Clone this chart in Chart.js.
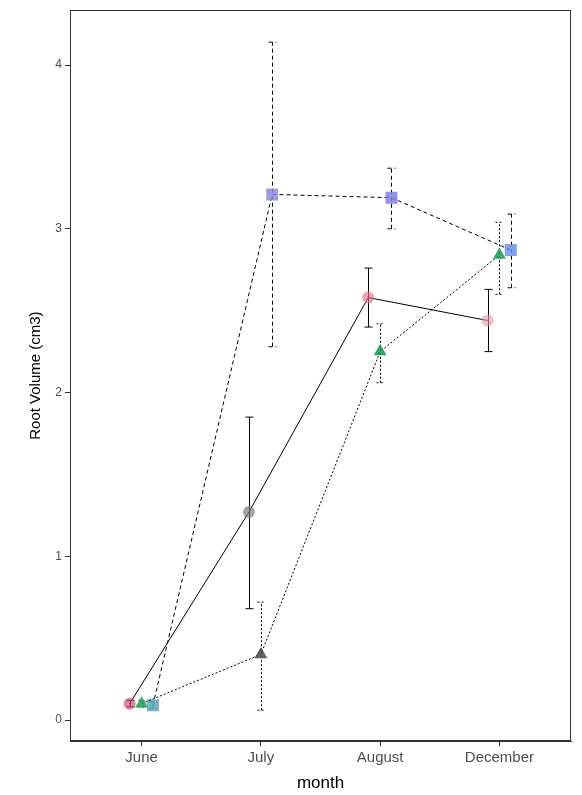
<!DOCTYPE html>
<html>
<head>
<meta charset="utf-8">
<script src="https://cdn.jsdelivr.net/npm/chart.js@4"></script>
<style>
  html, body { margin: 0; padding: 0; background: #ffffff; }
  #wrap { width: 582px; height: 795px; }
</style>
</head>
<body>
<div id="wrap"><canvas id="chart" width="582" height="795"></canvas></div>
<script>
// Dati
const months = ['June', 'July', 'August', 'December'];
const yTicks = [0, 1, 2, 3, 4];

// serie 1: cerchi, linea continua
const circleMean = [0.10, 1.27, 2.58, 2.44];
const circleLow  = [0.08, 0.68, 2.40, 2.25];
const circleHigh = [0.12, 1.85, 2.76, 2.63];

// serie 2: triangoli, linea a puntini
const triMean = [0.10, 0.40, 2.25, 2.84];
const triLow  = [0.08, 0.06, 2.06, 2.60];
const triHigh = [0.12, 0.72, 2.42, 3.04];

// serie 3: quadrati, linea tratteggiata
const sqMean = [0.09, 3.21, 3.19, 2.87];
const sqLow  = [0.07, 2.28, 3.00, 2.64];
const sqHigh = [0.11, 4.14, 3.37, 3.09];

// Colori dei punti (per mese)
const circleColors = ['rgba(208,80,115,0.7)', 'rgba(125,125,125,0.7)', 'rgba(226,115,135,0.65)', 'rgba(232,150,165,0.6)'];
const triColors = ['rgba(42,166,90,0.9)', 'rgba(80,80,80,0.9)', 'rgba(31,154,90,0.9)', 'rgba(35,158,94,0.9)'];
const sqColors = ['rgba(90,168,184,0.85)', 'rgba(140,140,216,0.85)', 'rgba(127,128,224,0.85)', 'rgba(108,144,230,0.85)'];

// spostamento orizzontale (dodge) delle serie
const dodge = [-0.1, 0, 0.095];

function toPoints(values, shift) {
    return values.map((v, i) => ({ x: i + 1 + shift, y: v }));
}

// Disegna le barre d'errore
const errorBars = {
    id: 'errorBars',
    beforeDatasetsDraw(chart) {
        const ctx = chart.ctx;
        const yScale = chart.scales.y;
        chart.data.datasets.forEach((ds, di) => {
            const meta = chart.getDatasetMeta(di);
            ctx.save();
            ctx.strokeStyle = '#000000';
            ctx.lineWidth = 1;
            ctx.setLineDash(ds.borderDash || []);
            meta.data.forEach((pt, i) => {
                const x = Math.round(pt.x) + 0.5;
                const yLo = yScale.getPixelForValue(ds.low[i]);
                const yHi = yScale.getPixelForValue(ds.high[i]);
                ctx.beginPath();
                ctx.moveTo(x, yLo);
                ctx.lineTo(x, yHi);
                ctx.moveTo(x - 4, yLo);
                ctx.lineTo(x + 4, yLo);
                ctx.moveTo(x - 4, yHi);
                ctx.lineTo(x + 4, yHi);
                ctx.stroke();
            });
            ctx.restore();
        });
    }
};

// Cornice attorno all'area del grafico
const panelBorder = {
    id: 'panelBorder',
    afterDraw(chart) {
        const a = chart.chartArea;
        const ctx = chart.ctx;
        ctx.save();
        ctx.strokeStyle = '#333333';
        ctx.lineWidth = 1;
        ctx.strokeRect(Math.round(a.left) + 0.5, Math.round(a.top) + 0.5,
            Math.round(a.right - a.left) - 1, Math.round(a.bottom - a.top) - 1);
        ctx.restore();
    }
};

const ctx = document.getElementById('chart').getContext('2d');
new Chart(ctx, {
    type: 'line',
    data: {
        datasets: [
            {
                label: 'circle',
                data: toPoints(circleMean, dodge[0]),
                low: circleLow,
                high: circleHigh,
                borderColor: '#000000',
                borderWidth: 1,
                pointStyle: 'circle',
                pointRadius: 6,
                pointBorderWidth: 0,
                pointBackgroundColor: circleColors
            },
            {
                label: 'triangle',
                data: toPoints(triMean, dodge[1]),
                low: triLow,
                high: triHigh,
                borderColor: '#000000',
                borderWidth: 1,
                borderDash: [2, 2],
                pointStyle: 'triangle',
                pointRadius: 7.5,
                pointBorderWidth: 0,
                pointBackgroundColor: triColors
            },
            {
                label: 'square',
                data: toPoints(sqMean, dodge[2]),
                low: sqLow,
                high: sqHigh,
                borderColor: '#000000',
                borderWidth: 1,
                borderDash: [4, 3],
                pointStyle: 'rect',
                pointRadius: 8.5,
                pointBorderWidth: 0,
                pointBackgroundColor: sqColors
            }
        ]
    },
    options: {
        responsive: false,
        animation: false,
        devicePixelRatio: 1,
        layout: { padding: { top: 8, right: 11, left: 0, bottom: 0 } },
        plugins: {
            legend: { display: false },
            tooltip: { enabled: false }
        },
        scales: {
            x: {
                type: 'linear',
                min: 0.4,
                max: 4.6,
                afterBuildTicks: (scale) => {
                    scale.ticks = months.map((m, i) => ({ value: i + 1 }));
                },
                afterFit: (scale) => { scale.height = 54; },
                grid: { drawOnChartArea: false, drawTicks: true, tickLength: 5, color: '#333333' },
                border: { display: true, color: '#333333' },
                ticks: {
                    padding: 3,
                    color: '#4d4d4d',
                    font: { family: 'Liberation Sans', size: 15 },
                    maxRotation: 0,
                    callback: (v) => months[Math.round(v) - 1]
                },
                title: {
                    display: true,
                    text: 'month',
                    color: '#000000',
                    font: { family: 'Liberation Sans', size: 17 },
                    padding: { top: 0, bottom: 1 }
                }
            },
            y: {
                min: -0.128,
                max: 4.335,
                afterBuildTicks: (scale) => {
                    scale.ticks = yTicks.map(v => ({ value: v }));
                },
                afterFit: (scale) => { scale.width = 70; },
                grid: { drawOnChartArea: false, drawTicks: true, tickLength: 5, color: '#333333' },
                border: { display: true, color: '#333333' },
                ticks: {
                    padding: 3,
                    color: '#4d4d4d',
                    font: { family: 'Liberation Sans', size: 12 }
                },
                title: {
                    display: true,
                    text: 'Root Volume (cm3)',
                    color: '#000000',
                    font: { family: 'Liberation Sans', size: 15 },
                    padding: { top: 27, bottom: 0 }
                }
            }
        }
    },
    plugins: [errorBars, panelBorder]
});
</script>
</body>
</html>
